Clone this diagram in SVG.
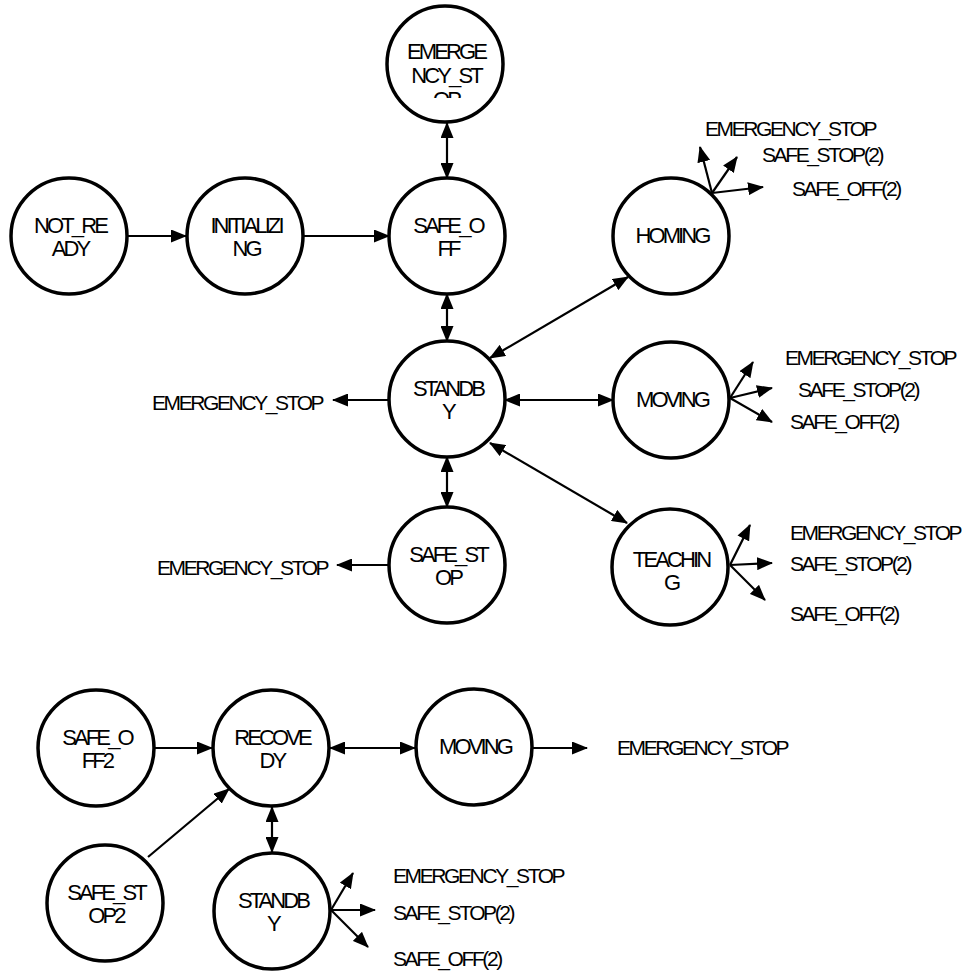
<svg xmlns="http://www.w3.org/2000/svg" width="962" height="974" viewBox="0 0 962 974">
<style>
.n{fill:#fff;stroke:#000;stroke-width:3.5}
.t{font-family:"Liberation Sans",Arial,sans-serif;font-size:22px;letter-spacing:-2.9px;text-anchor:middle;fill:#000}
.l{font-family:"Liberation Sans",Arial,sans-serif;font-size:21px;letter-spacing:-2.4px;fill:#000}
.c{stroke:#000;stroke-width:2.2;fill:none;marker-end:url(#ah)}
.d{marker-start:url(#ah)}
</style>
<defs>
<marker id="ah" markerUnits="userSpaceOnUse" markerWidth="16" markerHeight="13" refX="15" refY="6.5" orient="auto-start-reverse"><path d="M0,0 L16,6.5 L0,13 z" fill="#000"/></marker>
<clipPath id="clipE"><rect x="380" y="0" width="130" height="98"/></clipPath>
</defs>
<rect width="962" height="974" fill="#fff"/>
<g id="connectors">
<line class="c" x1="128" y1="236" x2="186" y2="236"/>
<line class="c" x1="304" y1="236" x2="389" y2="236"/>
<line class="c d" x1="447" y1="123" x2="447" y2="178"/>
<line class="c d" x1="447" y1="294" x2="447" y2="341"/>
<line class="c d" x1="447" y1="457" x2="447" y2="507"/>
<line class="c" x1="389" y1="400" x2="333" y2="400"/>
<line class="c" x1="389" y1="565" x2="337" y2="565"/>
<line class="c d" x1="490" y1="358" x2="628" y2="277"/>
<line class="c d" x1="505" y1="400" x2="613" y2="400"/>
<line class="c d" x1="490" y1="443" x2="627" y2="523"/>
<line class="c" x1="712" y1="193" x2="700" y2="147"/>
<line class="c" x1="712" y1="193" x2="737" y2="157"/>
<line class="c" x1="712" y1="193" x2="763" y2="187"/>
<line class="c" x1="730" y1="398" x2="753" y2="362"/>
<line class="c" x1="730" y1="398" x2="772" y2="388"/>
<line class="c" x1="730" y1="398" x2="772" y2="422"/>
<line class="c" x1="730" y1="565" x2="750" y2="525"/>
<line class="c" x1="730" y1="565" x2="772" y2="563"/>
<line class="c" x1="730" y1="565" x2="765" y2="600"/>
<line class="c" x1="155" y1="748" x2="212" y2="748"/>
<line class="c" x1="148" y1="857" x2="229" y2="789"/>
<line class="c d" x1="330" y1="748" x2="415" y2="748"/>
<line class="c" x1="533" y1="748" x2="587" y2="748"/>
<line class="c d" x1="272" y1="807" x2="272" y2="852"/>
<line class="c" x1="331" y1="910" x2="353" y2="873"/>
<line class="c" x1="331" y1="910" x2="375" y2="910"/>
<line class="c" x1="331" y1="910" x2="368" y2="947"/>
</g>
<g id="labels">
<text class="l" x="152" y="410">EMERGENCY_STOP</text>
<text class="l" x="157" y="575">EMERGENCY_STOP</text>
<text class="l" x="705" y="136">EMERGENCY_STOP</text>
<text class="l" x="762" y="162">SAFE_STOP(2)</text>
<text class="l" x="792" y="196">SAFE_OFF(2)</text>
<text class="l" x="785" y="365">EMERGENCY_STOP</text>
<text class="l" x="798" y="397">SAFE_STOP(2)</text>
<text class="l" x="790" y="429">SAFE_OFF(2)</text>
<text class="l" x="790" y="540">EMERGENCY_STOP</text>
<text class="l" x="790" y="571">SAFE_STOP(2)</text>
<text class="l" x="790" y="621">SAFE_OFF(2)</text>
<text class="l" x="617" y="755">EMERGENCY_STOP</text>
<text class="l" x="393" y="883">EMERGENCY_STOP</text>
<text class="l" x="393" y="920">SAFE_STOP(2)</text>
<text class="l" x="393" y="966">SAFE_OFF(2)</text>
</g>
<g id="emergency_stop"><circle class="n" cx="445" cy="64" r="58"/><g clip-path="url(#clipE)"><text class="t" x="446" y="59">EMERGE</text><text class="t" x="446" y="83">NCY_ST</text><text class="t" x="446" y="107">OP</text></g></g>
<g id="not_ready"><circle class="n" cx="69" cy="236" r="58"/><text class="t" x="70" y="233">NOT_RE</text><text class="t" x="70" y="256">ADY</text></g>
<g id="initializing"><circle class="n" cx="245" cy="236" r="58"/><text class="t" x="246" y="233">INITIALIZI</text><text class="t" x="246" y="256">NG</text></g>
<g id="safe_off"><circle class="n" cx="447" cy="236" r="58"/><text class="t" x="448" y="233">SAFE_O</text><text class="t" x="448" y="256">FF</text></g>
<g id="homing"><circle class="n" cx="671" cy="236" r="58"/><text class="t" x="672" y="243">HOMING</text></g>
<g id="standby"><circle class="n" cx="447" cy="399" r="58"/><text class="t" x="448" y="396">STANDB</text><text class="t" x="448" y="419">Y</text></g>
<g id="moving"><circle class="n" cx="671" cy="400" r="58"/><text class="t" x="672" y="407">MOVING</text></g>
<g id="safe_stop"><circle class="n" cx="447" cy="565" r="58"/><text class="t" x="448" y="562">SAFE_ST</text><text class="t" x="448" y="585">OP</text></g>
<g id="teaching"><circle class="n" cx="670" cy="567" r="58"/><text class="t" x="671" y="567">TEACHIN</text><text class="t" x="671" y="590">G</text></g>
<g id="safe_off2"><circle class="n" cx="96" cy="748" r="58"/><text class="t" x="97" y="745">SAFE_O</text><text class="t" x="97" y="768">FF2</text></g>
<g id="recovedy"><circle class="n" cx="271" cy="748" r="58"/><text class="t" x="272" y="745">RECOVE</text><text class="t" x="272" y="768">DY</text></g>
<g id="moving2"><circle class="n" cx="474" cy="747" r="58"/><text class="t" x="475" y="754">MOVING</text></g>
<g id="safe_stop2"><circle class="n" cx="105" cy="903" r="58"/><text class="t" x="106" y="900">SAFE_ST</text><text class="t" x="106" y="923">OP2</text></g>
<g id="standby2"><circle class="n" cx="272" cy="911" r="58"/><text class="t" x="273" y="908">STANDB</text><text class="t" x="273" y="931">Y</text></g>
</svg>
